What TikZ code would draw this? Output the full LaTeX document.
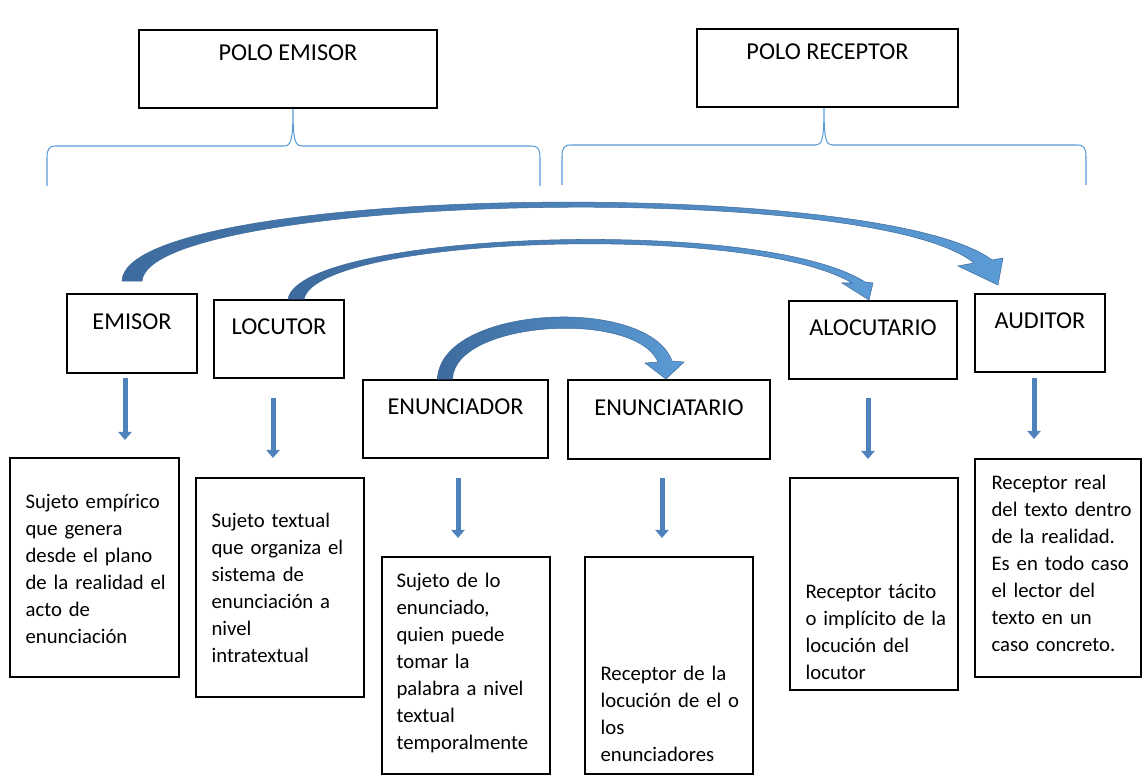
\documentclass[tikz,border=0pt]{standalone}
\usepackage{fontspec}
\setmainfont{Carlito}
\usetikzlibrary{arrows.meta,calc}

\definecolor{arrdark}{RGB}{62,107,158}
\definecolor{arrlight}{RGB}{91,155,213}
\definecolor{llavecol}{RGB}{91,155,213}
\definecolor{downcol}{RGB}{79,129,189}

\begin{document}
\begin{tikzpicture}[x=0.02cm,y=-0.02cm]
    \tikzstyle{hdr}=[rectangle, draw=black, line width=1.1pt, align=center, font=\fontsize{13.8}{13.66}\selectfont, minimum height=1.56cm, inner sep=0pt]
    \tikzstyle{box}=[rectangle, draw=black, line width=0.9pt, minimum width=3.36cm, minimum height=4.38cm, inner sep=0pt]
    \tikzstyle{txt}=[anchor=base west, align=left, text width=3.1cm, inner sep=0pt, font=\fontsize{11.8}{15.4}\selectfont]
    \tikzstyle{llave}=[draw=llavecol, line width=0.6pt]
    \tikzstyle{bigarrow}=[left color=arrdark, right color=arrlight, draw=arrdark, line width=0.3pt]
    \tikzstyle{downarrow}=[draw=downcol, line width=0.1cm, -{Triangle[width=0.26cm,length=0.16cm]}]

    \useasboundingbox (0,0) rectangle (1144,776);

    % polos
    \node[hdr, minimum width=5.96cm] (pemisor) at (288,69) {POLO EMISOR\\[0.16cm]\mbox{}};
    \node[hdr, minimum width=5.22cm] (precep) at (827.5,68) {POLO RECEPTOR\\[0.16cm]\mbox{}};

    \draw[llave] (47,186) -- (47,158) .. controls (47,149) and (49,146) .. (56,146) -- (284,146)
        .. controls (291,146) and (293,140) .. ([xshift=0.1cm]pemisor.south)
        .. controls (293,140) and (295,146) .. (302,146) -- (531,146)
        .. controls (538,146) and (540,149) .. (540,158) -- (540,186);
    \draw[llave] (562,185) -- (562,157) .. controls (562,148) and (564,145) .. (571,145) -- (816,145)
        .. controls (822,145) and (824,139) .. ([xshift=-0.07cm]precep.south)
        .. controls (824,139) and (826,145) .. (832,145) -- (1077,145)
        .. controls (1084,145) and (1086,148) .. (1086,157) -- (1086,185);

    % sujetos
    \node[hdr, minimum width=2.6cm, minimum height=1.58cm] (emisor) at (132,333.5) {EMISOR\\\mbox{}};
    \node[hdr, minimum width=2.6cm] (locutor) at (279,339) {LOCUTOR\\\mbox{}};
    \node[hdr, minimum width=3.7cm] (enunciador) at (455.5,419) {ENUNCIADOR\\\mbox{}};
    \node[hdr, minimum width=4.04cm, minimum height=1.58cm] (enunciatario) at (669,419.5) {ENUNCIATARIO\\\mbox{}};
    \node[hdr, minimum width=3.36cm] (alocutario) at (873,340) {ALOCUTARIO\\\mbox{}};
    \node[hdr, minimum width=2.6cm] (auditor) at (1040,333) {AUDITOR\\\mbox{}};

    % flechas curvas
    \path[bigarrow] ($(emisor.north)+(-10,-12)$) .. controls (125,185) and (880,175) .. (992,260)
        -- (1003,258) -- ($(auditor.north)+(-42,-8)$) -- (958,266) -- (974,263)
        .. controls (870,178) and (150,195) .. ($(emisor.north)+(10,-12)$) -- cycle;
    \path[bigarrow] ($(locutor.north)+(9,0)$) .. controls (300,232) and (760,215) .. (865,282)
        -- (873,283) -- ($(alocutario.north)+(-4,0)$) -- (842,283) -- (852,283)
        .. controls (750,222) and (318,236) .. ($(locutor.north)+(25,0)$) -- cycle;
    \path[bigarrow] ($(enunciador.north)+(-18,0)$) .. controls (440,305) and (648,295) .. (672,361)
        -- (684,362) -- ($(enunciatario.north)+(-3,0)$) -- (645,363) -- (658,362)
        .. controls (636,310) and (455,320) .. ($(enunciador.north)+(-3,0)$) -- cycle;

    % definiciones
    \node[box, minimum width=3.38cm] (emisorbox) at (94.5,567.5) {};
    \node[box] (locutorbox) at (280,587.5) {};
    \node[box, minimum height=4.34cm] (enunciadorbox) at (466,665.5) {};
    \node[box, minimum height=4.34cm] (enunciatariobox) at (669,665.5) {};
    \node[box, minimum height=4.24cm] (alocutariobox) at (874,584) {};
    \node[box, minimum width=3.32cm, minimum height=4.36cm] (auditorbox) at (1058,568) {};

    \node[txt] (emisortxt) at ($(emisorbox.north west)+(16,51)$) {Sujeto empírico\\ que genera\\ desde el plano\\ de la realidad el\\ acto de\\ enunciación};
    \node[txt] (locutortxt) at ($(locutorbox.north west)+(16,50)$) {Sujeto textual\\ que organiza el\\ sistema de\\ enunciación a\\ nivel\\ intratextual};
    \node[txt] (enunciadortxt) at ($(enunciadorbox.north west)+(15,31)$) {Sujeto de lo\\ enunciado,\\ quien puede\\ tomar la\\ palabra a nivel\\ textual\\ temporalmente};
    \node[txt] (enunciatariotxt) at ($(enunciatariobox.north west)+(16,124)$) {Receptor de la\\ locución de el o\\ los\\ enunciadores};
    \node[txt] (alocutariotxt) at ($(alocutariobox.north west)+(16,121)$) {Receptor tácito\\ o implícito de la\\ locución del\\ locutor};
    \node[txt] (auditortxt) at ($(auditorbox.north west)+(17,31)$) {Receptor real\\ del texto dentro\\ de la realidad.\\ Es en todo caso\\ el lector del\\ texto en un\\ caso concreto.};

    % flechas hacia abajo
    \foreach \n/\x/\ya/\yb in {emi/125/378/440, loc/273/398/458, enr/458/478/538, ena/662/478/538, alo/868/398/459, aud/1034/378/439}
    {
        \coordinate (\n1) at (\x,\ya);
        \coordinate (\n2) at (\x,\yb);
        \draw[downarrow] (\n1) -- (\n2);
    }
\end{tikzpicture}
\end{document}
